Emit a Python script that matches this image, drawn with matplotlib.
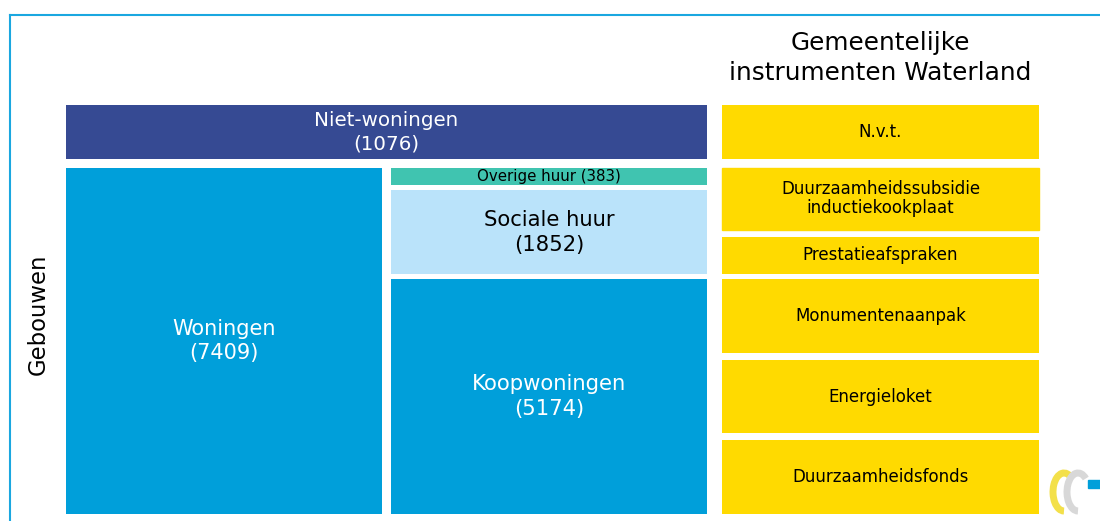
import matplotlib.pyplot as plt
from matplotlib.patches import Rectangle, Arc

# data
top_label = "Niet-woningen"
top_value = 1076
main_label = "Woningen"
main_value = 7409
sub_labels = ["Overige huur", "Sociale huur", "Koopwoningen"]
sub_values = [383, 1852, 5174]
instruments = ["N.v.t.", "Duurzaamheidssubsidie\ninductiekookplaat",
               "Prestatieafspraken", "Monumentenaanpak", "Energieloket",
               "Duurzaamheidsfonds"]
title = "Gemeentelijke\ninstrumenten Waterland"
side_label = "Gebouwen"

# colours
c_top = "#364A93"
c_blue = "#009FDA"
c_teal = "#40C4B0"
c_light = "#BAE3FA"
c_yellow = "#FFDA00"
c_border = "#1AA7E0"

fig = plt.figure(figsize=(11, 5.21), dpi=100)
ax = fig.add_axes([0, 0, 1, 1])
ax.set_xlim(0, 1100)
ax.set_ylim(521, 0)
ax.axis("off")


def box(x0, x1, y0, y1, color, text, tcolor, size):
    ax.add_patch(Rectangle((x0, y0), x1 - x0, y1 - y0, facecolor=color,
                           edgecolor="none"))
    ax.text((x0 + x1) / 2, (y0 + y1) / 2, text, ha="center", va="center",
            color=tcolor, fontsize=size, linespacing=1.3)


# frame lines
ax.plot([10, 1100], [15, 15], color=c_border, lw=1.5)
ax.plot([10, 10], [15, 521], color=c_border, lw=1.5)

# left block, heights proportional to counts
y_top, y_bot, gap = 105, 514, 9
k = (y_bot - y_top - gap) / (top_value + main_value)
xl0, xl1, xr0, xr1 = 66, 382, 391, 707
y_n1 = y_top + max(top_value * k, 54)
y_w0 = y_n1 + gap
box(xl0, xr1, y_top, y_n1, c_top, f"{top_label}\n({top_value})", "white", 14.3)
box(xl0, xl1, y_w0, y_bot, c_blue, f"{main_label}\n({main_value})", "white", 15)

sub_gap = 5
ks = (y_bot - y_w0 - sub_gap * (len(sub_values) - 1)) / sum(sub_values)
sub_colors = [c_teal, c_light, c_blue]
sub_tc = ["black", "black", "white"]
sub_fs = [10.8, 15.2, 15.2]
y = y_w0
edges = []
for lab, v, col, tc, fs in zip(sub_labels, sub_values, sub_colors, sub_tc, sub_fs):
    h = v * ks
    txt = f"{lab} ({v})" if v < 1000 else f"{lab}\n({v})"
    box(xr0, xr1, y, y + h, col, txt, tc, fs)
    edges.append((y, y + h))
    y += h + sub_gap

# instrument column
yx0, yx1 = 722, 1039
fs_i = 12
box(yx0, yx1, y_top, y_n1, c_yellow, instruments[0], "black", fs_i)
g = 7
# two instruments next to the rental part
h0, h1 = edges[0][0], edges[1][1]
split = h0 + (h1 - h0 - g) * 0.62
ax.add_patch(Rectangle((yx0, h0), yx1 - yx0, split - h0, color=c_yellow))
ax.text((yx0 + yx1) / 2, (h0 + split) / 2, instruments[1], ha="center",
        va="center", fontsize=fs_i, linespacing=1.05)
box(yx0, yx1, split + g, h1, c_yellow, instruments[2], "black", fs_i)
# three instruments next to owner-occupied
k0, k1 = edges[2]
hh = (k1 - k0 - 2 * g) / 3
for i, lab in enumerate(instruments[3:]):
    a = k0 + i * (hh + g)
    box(yx0, yx1, a, a + hh, c_yellow, lab, "black", fs_i)

ax.text((yx0 + yx1) / 2, 58, title, ha="center", va="center", fontsize=17.8,
        linespacing=1.3)
ax.text(38, 314, side_label, rotation=90, ha="center", va="center",
        fontsize=16.4)

# small logo
ax.add_patch(Arc((1064, 492), 22, 38, theta1=90, theta2=300, lw=5, color="#F3E04A"))
ax.add_patch(Arc((1078, 492), 22, 38, theta1=90, theta2=300, lw=5, color="#D8D8D8"))
ax.add_patch(Rectangle((1088, 480), 12, 8, color=c_blue))

fig.savefig("out.png", dpi=100)
